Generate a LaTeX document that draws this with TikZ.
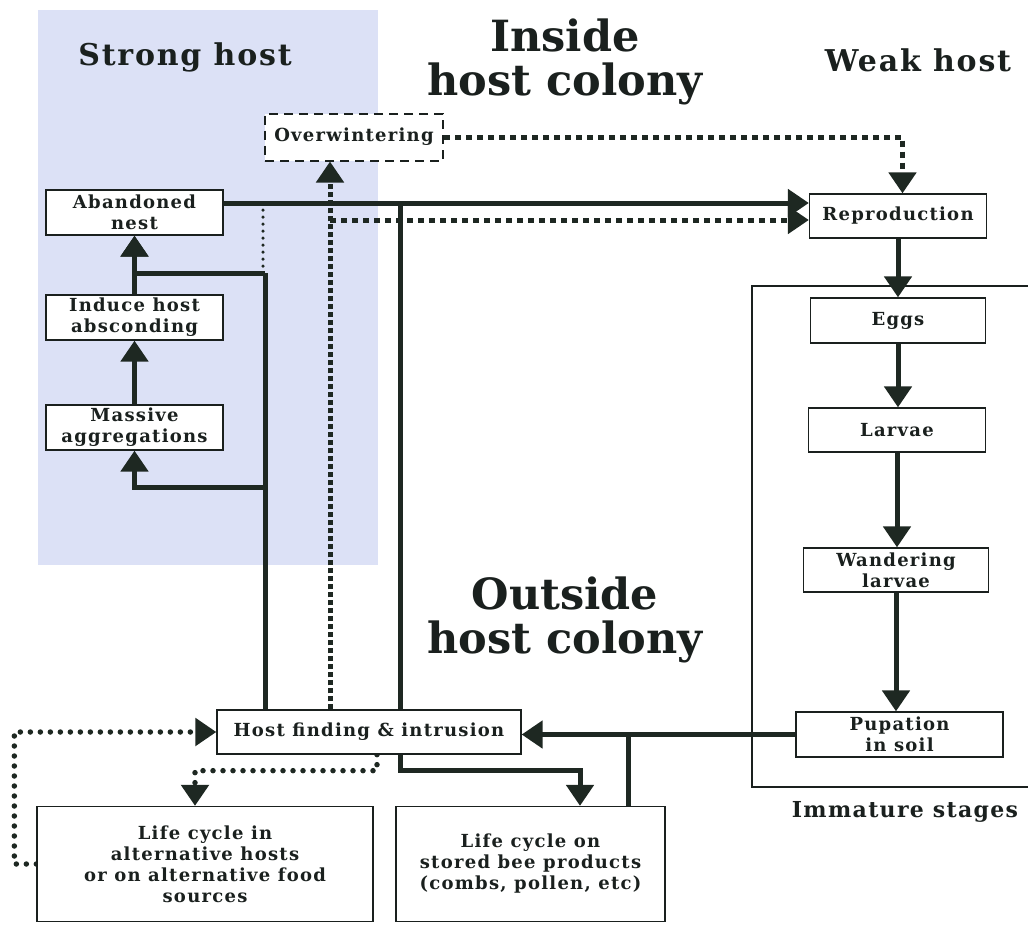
\documentclass[tikz,border=0pt]{standalone}
\usepackage{fontspec}
\setmainfont{DejaVu Serif}
\newfontfamily\boxfont[LetterSpace=7]{DejaVu Serif}
\newfontfamily\titlefont[LetterSpace=6]{DejaVu Serif}
\usetikzlibrary{arrows.meta,backgrounds,calc}
\definecolor{hostblue}{RGB}{220,225,246}
\definecolor{ink}{RGB}{26,32,30}
\definecolor{arr}{RGB}{30,40,34}
\tikzset{
  box/.style={draw=ink, line width=1.3pt, fill=white, inner sep=0pt, align=center,
    font=\boxfont\fontsize{18}{21}\selectfont\bfseries, text=ink},
  dbox/.style={box, dashed, dash pattern=on 9pt off 6pt, line width=2pt},
  flow/.style={draw=arr, line width=5pt, -{Triangle[width=27pt,length=21pt]}},
  flowline/.style={draw=arr, line width=5pt},
  sqdot/.style={draw=arr, line width=5pt, dash pattern=on 6pt off 5pt, -{Triangle[width=27pt,length=21pt]}},
  sqdotdense/.style={draw=arr, line width=5pt, dash pattern=on 5pt off 3pt, -{Triangle[width=27pt,length=21pt]}},
  rdot/.style={draw=arr, line width=5.5pt, line cap=round, dash pattern=on 0pt off 10pt, -{Triangle[width=27pt,length=21pt]}},
  smalldot/.style={draw=arr, line width=3.5pt, line cap=round, dash pattern=on 0pt off 7pt},
  title/.style={font=\titlefont\fontsize{30}{32}\selectfont\bfseries, text=ink},
  bigtitle/.style={font=\fontsize{43}{44}\selectfont\bfseries, text=ink, align=center},
}
\begin{document}
\begin{tikzpicture}[x=1pt,y=-1pt]
\useasboundingbox (0,0) rectangle (1028,924);
% nodes
\node[dbox, minimum width=178pt, minimum height=47pt] (over) at (354,137) {Overwintering};
\node[box, minimum width=177pt, minimum height=45pt] (aban) at (134.5,212.5) {Abandoned\\nest};
\node[box, minimum width=177pt, minimum height=45pt] (induce) at (134.5,317.5) {Induce host\\absconding};
\node[box, minimum width=177pt, minimum height=45pt] (mass) at (134.5,427.5) {Massive\\aggregations};
\node[box, minimum width=177pt, minimum height=44pt] (repro) at (898,216) {Reproduction};
\node[box, minimum width=175pt, minimum height=45pt] (eggs) at (898,320.5) {Eggs};
\node[box, minimum width=177pt, minimum height=44pt] (larv) at (897,430) {Larvae};
\node[box, minimum width=185pt, minimum height=44pt] (wand) at (896,570) {Wandering\\larvae};
\node[box, minimum width=207pt, minimum height=45pt] (pupa) at (899.5,734.5) {Pupation\\in soil};
\node[box, minimum width=304pt, minimum height=44pt] (host) at (369,732) {Host finding \& intrusion};
\node[box, minimum width=336pt, minimum height=115pt] (alt) at (205,864) {Life cycle in\\alternative hosts\\or on alternative food\\sources};
\node[box, minimum width=269pt, minimum height=115pt] (stored) at (530.5,864) {Life cycle on\\stored bee products\\(combs, pollen, etc)};
% titles
\node[title] (strong) at (185,57) {Strong host};
\node[title] (weak) at (918,60) {Weak host};
\node[bigtitle] (inside) at (565,62) {Inside\\host colony};
\node[bigtitle] (outside) at (565,620) {Outside\\host colony};
\node[font=\titlefont\fontsize{22}{24}\selectfont\bfseries, text=ink] (imm) at (905,812) {Immature stages};
% helper coordinates
\coordinate (j1) at (400,203);
\coordinate (k1) at (265,273);
\coordinate (k2) at (265,487);
\coordinate (d1) at (330,220);
\coordinate (s1) at (263,203);
\coordinate (s2) at (263,273);
\begin{pgfonlayer}{background}
\fill[hostblue] (38,10) rectangle (378,565);
\draw[ink, line width=1.2pt] (1030,286) -- (752,286) -- (752,787) -- (1030,787);
% solid connectors
\draw[flow] ([yshift=9.5pt]aban.east) -- ([yshift=13pt]repro.west);
\draw[flow] (j1) -- (j1 |- 0,770) -| ([xshift=49.5pt]stored.north);
\draw[flow] (pupa.west) -- (pupa.west -| host.east);
\draw[flowline] ([xshift=97.5pt]stored.north) -- ($(stored.north)+(97.5,-73)$);
\draw[flowline] (host.north -| k1) -- (k1);
\draw[flow] (k1) -| (aban.south);
\draw[flow] (k2) -| (mass.south);
\draw[flow] (mass.north) -- (induce.south);
\draw[flow] (induce.north) -- (aban.south);
\draw[flow] (repro.south) -- (eggs.north);
\draw[flow] (eggs.south) -- (eggs.south |- larv.north);
\draw[flow] (larv.south) -- (larv.south |- wand.north);
\draw[flow] (wand.south) -- (wand.south |- pupa.north);
% dotted connectors
\draw[sqdotdense] (host.north -| d1) -- (over.south -| d1);
\draw[sqdot] (d1) -- ([yshift=-4pt]repro.west);
\draw[sqdot] (over.east) -| ([xshift=4.5pt]repro.north);
\draw[smalldot] (s1) -- (s2);
\draw[rdot] ([xshift=8pt]host.south) -- ++(0,16) -| ([xshift=-10pt]alt.north);
\draw[rdot] (alt.west) -- ++(-22,0) |- (host.west);
\end{pgfonlayer}
\end{tikzpicture}
\end{document}
